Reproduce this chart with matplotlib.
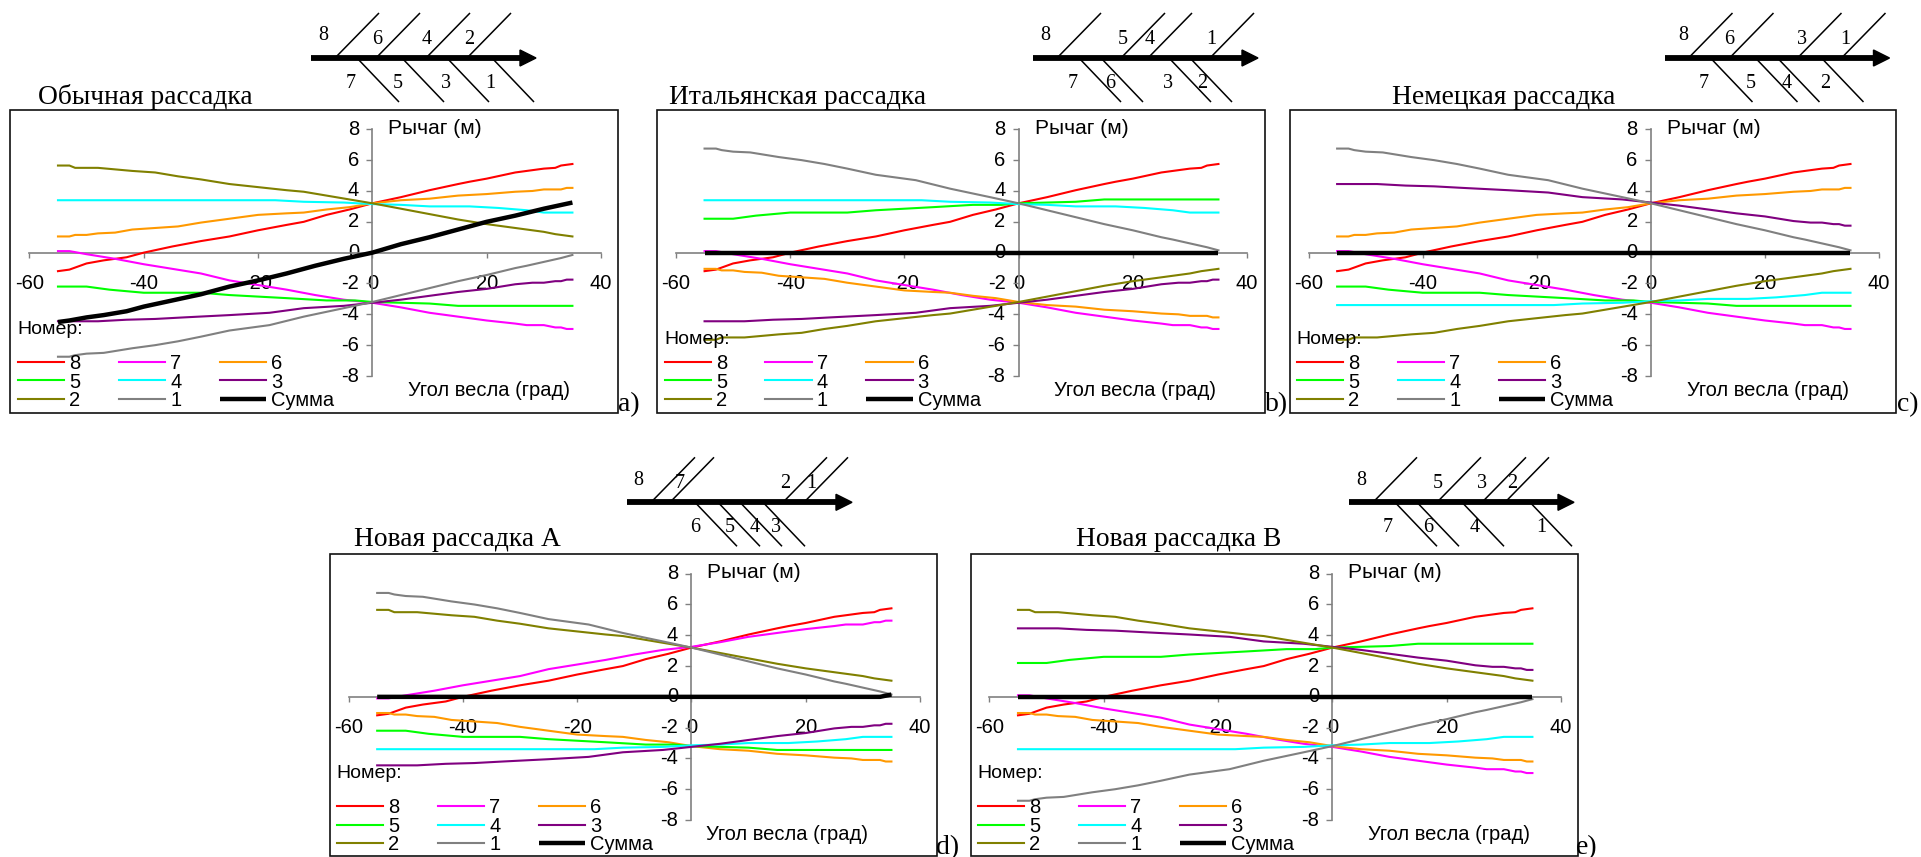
import matplotlib
matplotlib.use('Agg')
import numpy as np
import matplotlib.pyplot as plt
from matplotlib.lines import Line2D
from matplotlib.patches import Polygon, Rectangle

W, H = 1921, 857
SANS = 'Liberation Sans'
SERIF = 'Liberation Serif'

# рычаг каждого гребца, обычная рассадка (угол, м)
x_8 = [-55, -53, -50, -47, -43, -40, -35, -30, -25, -20, -15, -12, -8, -4, 0, 5, 10, 15, 17, 20, 25, 28, 30, 32, 33, 35]
y_8 = [-1.2, -1.1, -0.7, -0.5, -0.3, 0, 0.4, 0.75, 1.05, 1.45, 1.8, 2.0, 2.45, 2.8, 3.2, 3.6, 4.05, 4.45, 4.6, 4.8, 5.2, 5.35, 5.45, 5.5, 5.65, 5.75]
x_7 = [-55, -53, -50, -45, -40, -35, -30, -25, -20, -15, -10, -5, 0, 5, 10, 15, 20, 25, 27, 30, 32, 33, 34, 35]
y_7 = [0.1, 0.1, -0.1, -0.4, -0.75, -1.05, -1.35, -1.8, -2.1, -2.4, -2.75, -3.05, -3.25, -3.55, -3.9, -4.15, -4.4, -4.6, -4.7, -4.7, -4.85, -4.85, -4.95, -4.95]
x_6 = [-55, -53, -52, -50, -48, -45, -42, -38, -34, -30, -25, -20, -15, -12, -8, -4, 0, 5, 10, 15, 20, 25, 28, 30, 33, 34, 35]
y_6 = [1.05, 1.05, 1.15, 1.15, 1.25, 1.3, 1.5, 1.6, 1.7, 1.95, 2.2, 2.45, 2.55, 2.6, 2.8, 2.95, 3.2, 3.4, 3.5, 3.7, 3.8, 3.95, 4.0, 4.1, 4.1, 4.2, 4.2]
x_5 = [-55, -50, -46, -40, -30, -25, -15, -8, -3, 0, 5, 10, 15, 20, 35]
y_5 = [-2.2, -2.2, -2.4, -2.6, -2.6, -2.75, -2.95, -3.1, -3.1, -3.2, -3.25, -3.3, -3.45, -3.45, -3.45]
x_4 = [-55, -20, -17, -12, -5, 0, 5, 10, 17, 22, 27, 30, 35]
y_4 = [3.4, 3.4, 3.4, 3.3, 3.25, 3.15, 3.1, 3.0, 3.0, 2.9, 2.75, 2.6, 2.6]
x_3 = [-55, -48, -43, -38, -33, -25, -18, -12, -5, 0, 5, 10, 15, 20, 25, 28, 30, 32, 33, 34, 35]
y_3 = [-4.45, -4.45, -4.35, -4.3, -4.2, -4.05, -3.9, -3.6, -3.45, -3.25, -3.05, -2.8, -2.55, -2.35, -2.05, -1.95, -1.95, -1.85, -1.85, -1.75, -1.75]
x_2 = [-55, -53, -52, -48, -42, -38, -34, -30, -25, -20, -15, -12, -8, -4, 0, 5, 10, 15, 20, 22, 25, 28, 30, 32, 33, 35]
y_2 = [5.65, 5.65, 5.5, 5.5, 5.3, 5.2, 4.95, 4.75, 4.45, 4.25, 4.05, 3.95, 3.7, 3.45, 3.2, 2.85, 2.5, 2.15, 1.85, 1.75, 1.6, 1.45, 1.35, 1.2, 1.15, 1.05]
x_1 = [-55, -53, -52, -50, -47, -42, -38, -34, -30, -25, -18, -12, -5, 0, 5, 10, 15, 20, 25, 27, 30, 33, 35]
y_1 = [-6.75, -6.75, -6.65, -6.55, -6.5, -6.2, -6.0, -5.75, -5.45, -5.05, -4.7, -4.15, -3.6, -3.2, -2.75, -2.3, -1.85, -1.45, -1.0, -0.85, -0.6, -0.35, -0.15]

# суммарный момент
sum_x_a = [-55, -53, -50, -47, -43, -40, -35, -30, -25, -20, -15, -10, -5, 0, 5, 10, 15, 20, 25, 30, 35]
sum_y_a = [-4.5, -4.4, -4.2, -4.05, -3.8, -3.5, -3.1, -2.7, -2.2, -1.8, -1.35, -0.85, -0.4, 0, 0.55, 1.0, 1.5, 2.0, 2.4, 2.85, 3.25]
sum_x_flat = [-55, 35]
sum_y_flat = [0, 0]
sum_x_d = [-55, 33, 35]
sum_y_d = [0, 0, 0.15]

# знак борта для гребцов 8..1 (+ = верх схемы)
sides_a = [1, -1, 1, -1, 1, -1, 1, -1]
sides_b = [1, -1, -1, 1, 1, -1, -1, 1]
sides_c = [1, -1, 1, -1, -1, 1, -1, 1]
sides_d = [1, 1, -1, -1, -1, -1, 1, 1]
sides_e = [1, -1, -1, 1, -1, 1, 1, -1]

seats = ['8', '7', '6', '5', '4', '3', '2', '1']
xs = [x_8, x_7, x_6, x_5, x_4, x_3, x_2, x_1]
ys = [y_8, y_7, y_6, y_5, y_4, y_3, y_2, y_1]
colors = ['#ff0000', '#ff00ff', '#ff9900', '#00ff00', '#00ffff', '#800080', '#808000', '#808080']

titles = ['Обычная рассадка', 'Итальянская рассадка', 'Немецкая рассадка', 'Новая рассадка А', 'Новая рассадка В']
letters = ['a)', 'b)', 'c)', 'd)', 'e)']
x_ticks = [-60, -40, -20, 0, 20, 40]
y_ticks = [-8, -6, -4, -2, 0, 2, 4, 6, 8]

# положение рёбер на схеме (пиксели от начала стрелки)
rib_up = [24, 43, 65, 88, 115, 133, 156, 177]
rib_down = [24, 46, 68, 91, 113, 136, 157, 181]

# пиксельная разметка панелей
panels = [
    dict(frame=(10, 110, 618, 413), ax_x=(29.4, 601), ax_y=(129.3, 376), arrow=(311, 58),
         title=(38, 97), letter=(618, 405), xlab=379, nomer=330, sides=sides_a, sx=sum_x_a, sy=sum_y_a,
         lab={'8': 12.7, '6': 66, '4': 116, '2': 158, '7': 40, '5': 87, '3': 135.5, '1': 179.6}),
    dict(frame=(657, 110, 1264.5, 413), ax_x=(676, 1247), ax_y=(129.3, 376), arrow=(1033, 58),
         title=(669.4, 97), letter=(1265, 405), xlab=378, nomer=340, sides=sides_b, sx=sum_x_flat, sy=sum_y_flat,
         lab={'8': 12, '5': 90, '4': 117, '1': 178, '7': 40, '6': 77.5, '3': 135, '2': 169}),
    dict(frame=(1290, 110, 1896, 413), ax_x=(1308.6, 1879), ax_y=(129.3, 376), arrow=(1664.5, 58),
         title=(1392, 97), letter=(1897, 405), xlab=378, nomer=340, sides=sides_c, sx=sum_x_flat, sy=sum_y_flat,
         lab={'8': 18.8, '6': 65, '3': 137, '1': 181, '7': 39, '5': 86.5, '4': 122, '2': 161}),
    dict(frame=(330, 554, 937, 856), ax_x=(348.6, 920), ax_y=(573.7, 820), arrow=(627, 502.3),
         title=(353.5, 540), letter=(936, 848), xlab=357, nomer=774, sides=sides_d, sx=sum_x_d, sy=sum_y_d,
         lab={'8': 11.4, '7': 53, '2': 158, '1': 184, '6': 68.6, '5': 103, '4': 128, '3': 149}),
    dict(frame=(971, 554, 1578, 856), ax_x=(989.4, 1561), ax_y=(573.7, 820), arrow=(1349, 502.3),
         title=(1076, 540), letter=(1576, 848), xlab=379, nomer=774, sides=sides_e, sx=sum_x_flat, sy=sum_y_flat,
         lab={'8': 12, '5': 89, '3': 133.5, '2': 163, '7': 39, '6': 79, '4': 126, '1': 192}),
]

fig = plt.figure(figsize=(W / 100, H / 100), dpi=100, facecolor='white')


def fx(x):
    return x / W


def fy(y):
    return 1 - y / H


def fig_line(x0, y0, x1, y1, lw):
    fig.add_artist(Line2D([fx(x0), fx(x1)], [fy(y0), fy(y1)], color='black', lw=lw, solid_capstyle='butt'))


for n, p in enumerate(panels):
    # рамка
    l, t, r, b = p['frame']
    fig.add_artist(Rectangle((fx(l), fy(b)), fx(r - l), (b - t) / H, fill=False, edgecolor='#111111', lw=1.2))

    x0, x1 = p['ax_x']
    y0, y1 = p['ax_y']
    zero_y = (y0 + y1) / 2
    ax = fig.add_axes([fx(x0), fy(y1), fx(x1 - x0), (y1 - y0) / H])
    ax.patch.set_alpha(0)
    ax.set_xlim(-60, 40)
    ax.set_ylim(-8, 8)
    for s in ['top', 'right']:
        ax.spines[s].set_visible(False)
    for s in ['left', 'bottom']:
        ax.spines[s].set_position('zero')
        ax.spines[s].set_color('#808080')
        ax.spines[s].set_linewidth(1.2)
    ax.set_xticks(x_ticks)
    ax.set_yticks(y_ticks)
    ax.set_xticklabels([str(v) for v in x_ticks], family=SANS, fontsize=14.5)
    ax.set_yticklabels([str(v) for v in y_ticks], family=SANS, fontsize=14.5, va='center')
    ax.tick_params(axis='x', direction='out', length=3.5, width=1, color='#808080', pad=12)
    ax.tick_params(axis='y', direction='out', length=4.5, width=1, color='#808080', pad=5)

    handles = []
    for i in range(8):
        # базовые значения даны для обычной рассадки, здесь только меняется борт
        sign = p['sides'][i] * sides_a[i]
        line, = ax.plot(xs[i], np.array(ys[i]) * sign, color=colors[i], lw=1.5, label=seats[i], zorder=3)
        handles.append(line)
    total, = ax.plot(p['sx'], p['sy'], color='black', lw=3.2, label='Сумма', solid_capstyle='butt', zorder=4)
    handles.append(total)

    # легенда построчно: 8 7 6 / 5 4 3 / 2 1 Сумма
    order = [handles[0], handles[3], handles[6], handles[1], handles[4], handles[7], handles[2], handles[5], handles[8]]
    ax.legend(handles=order, ncol=3, loc='upper left', frameon=False,
              bbox_to_anchor=(-11.5 / (x1 - x0), (y1 - zero_y - 101.5) / (y1 - y0)),
              prop={'family': SANS, 'size': 14.5}, borderpad=0, borderaxespad=0,
              handlelength=2.3, handletextpad=0.25, columnspacing=1.9, labelspacing=-0.03)

    # подписи
    fig.text(fx(x0 + 358.6), fy(y0 - 1), 'Рычаг (м)', family=SANS, fontsize=15, va='center', ha='left')
    fig.text(fx(x0 + p['xlab']), fy(zero_y + 137.5), 'Угол весла (град)', family=SANS, fontsize=14.5, va='center', ha='left')
    fig.text(fx(x0 - 12), fy(p['nomer']), 'Номер:', family=SANS, fontsize=14, va='center', ha='left')
    fig.text(fx(p['title'][0]), fy(p['title'][1]), titles[n], family=SERIF, fontsize=19.8, va='center', ha='left')
    fig.text(fx(p['letter'][0]), fy(p['letter'][1]), letters[n], family=SERIF, fontsize=20, va='center', ha='left')

    # схема рассадки
    ax0, ay0 = p['arrow']
    fig_line(ax0, ay0, ax0 + 210, ay0, 4.2)
    fig.add_artist(Polygon([(fx(ax0 + 209), fy(ay0 - 8)), (fx(ax0 + 225), fy(ay0)), (fx(ax0 + 209), fy(ay0 + 8))],
                           closed=True, color='black', transform=fig.transFigure))
    for i in range(8):
        if p['sides'][i] > 0:
            rx = ax0 + rib_up[i]
            fig_line(rx, ay0, rx + 44, ay0 - 45, 1.1)
            dy = -22 if seats[i] == '8' else -19
        else:
            rx = ax0 + rib_down[i]
            fig_line(rx, ay0, rx + 42, ay0 + 44, 1.1)
            dy = 25
        fig.text(fx(ax0 + p['lab'][seats[i]]), fy(ay0 + dy), seats[i], family=SERIF, fontsize=14.5, va='center', ha='center')

plt.savefig('out.png', dpi=100)
